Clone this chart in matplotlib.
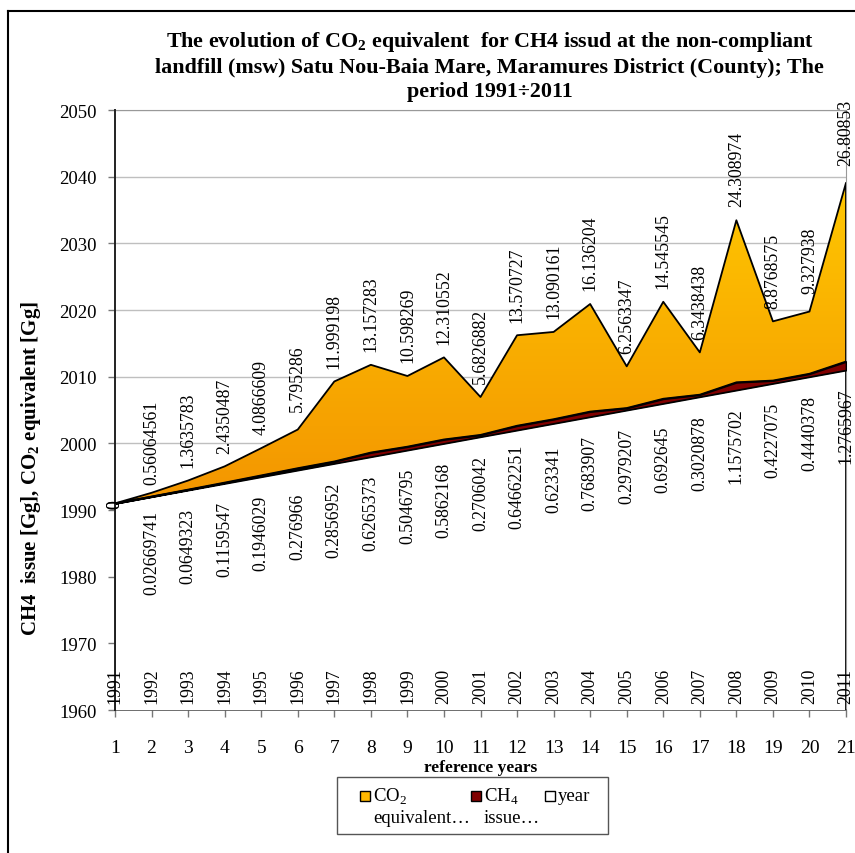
import numpy as np
import matplotlib
matplotlib.use('Agg')
from matplotlib import pyplot as plt
from matplotlib.colors import LinearSegmentedColormap
from matplotlib.patches import Rectangle

plt.rcParams['font.family'] = ['Liberation Serif', 'DejaVu Serif']
plt.rcParams['mathtext.fontset'] = 'custom'
plt.rcParams['mathtext.rm'] = 'Liberation Serif'
plt.rcParams['mathtext.bf'] = 'Liberation Serif:bold'

# data
ref = np.arange(1, 22)
year = np.arange(1991, 2012)
ch4 = np.array([0, 0.02669741, 0.0649323, 0.1159547, 0.1946029, 0.276966,
                0.2856952, 0.6265373, 0.5046795, 0.5862168, 0.2706042,
                0.64662251, 0.623341, 0.7683907, 0.2979207, 0.692645,
                0.3020878, 1.1575702, 0.4227075, 0.4440378, 1.2765967])
co2 = np.array([0, 0.56064561, 1.3635783, 2.4350487, 4.0866609, 5.795286,
                11.999198, 13.157283, 10.598269, 12.310552, 5.6826882,
                13.570727, 13.090161, 16.136204, 6.2563347, 14.545545,
                6.3438438, 24.308974, 8.8768575, 9.327938, 26.80853])
ch4_txt = ['0', '0.02669741', '0.0649323', '0.1159547', '0.1946029', '0.276966',
           '0.2856952', '0.6265373', '0.5046795', '0.5862168', '0.2706042',
           '0.64662251', '0.623341', '0.7683907', '0.2979207', '0.692645',
           '0.3020878', '1.1575702', '0.4227075', '0.4440378', '1.2765967']
co2_txt = ['0', '0.56064561', '1.3635783', '2.4350487', '4.0866609', '5.795286',
           '11.999198', '13.157283', '10.598269', '12.310552', '5.6826882',
           '13.570727', '13.090161', '16.136204', '6.2563347', '14.545545',
           '6.3438438', '24.308974', '8.8768575', '9.327938', '26.80853']

W, H = 855, 854
def px(x, y):
    return x / W, 1 - y / H

fig = plt.figure(figsize=(8.55, 8.54), dpi=100)
ax = fig.add_axes([0.1345, 0.1674, 0.8550, 0.7026])

polys = ax.stackplot(ref, year, ch4, co2,
                     colors=['white', '#800000', 'none'],
                     edgecolor='black', linewidth=1.3, zorder=3)

# orange gradient inside the CO2 area
cmap = LinearSegmentedColormap.from_list('og', ['#F39400', '#FFC800'])
grad = np.linspace(0, 1, 256).reshape(-1, 1)
im = ax.imshow(grad, cmap=cmap, aspect='auto', origin='lower',
               extent=[1, 21, 1990, 2040], zorder=2.5)
im.set_clip_path(polys[2].get_paths()[0], ax.transData)

ax.set_xlim(1, 21)
ax.set_ylim(1960, 2050)
ax.set_xticks(ref)
ax.set_yticks(np.arange(1960, 2051, 10))
ax.grid(axis='y', color='#BFBFBF', lw=1.0, zorder=0)
ax.set_axisbelow(True)

for s in ['top', 'right']:
    ax.spines[s].set_color('#999999')
ax.spines['left'].set_color('#222222')
ax.spines['left'].set_linewidth(1.4)
ax.spines['bottom'].set_color('#555555')
ax.spines['bottom'].set_linewidth(1.2)
ax.spines['left'].set_zorder(4)

ax.tick_params(axis='y', direction='out', length=5, width=1, color='#777777',
               labelsize=13.5, pad=8)
ax.tick_params(axis='x', direction='out', length=5, width=1, color='#777777',
               labelsize=14, pad=16)

# data labels
lbl = dict(rotation=90, fontsize=12.8, ha='center', va='center', zorder=5)
top = year + ch4 + co2
for i in range(len(ref)):
    if i == 0:
        ax.text(ref[i], year[i], '0', **lbl)
        ax.text(ref[i], year[i], '0', **lbl)
    else:
        ax.annotate(co2_txt[i], (ref[i], top[i]), xytext=(0, 37),
                    textcoords='offset points', **lbl)
        ax.annotate(ch4_txt[i], (ref[i], year[i]), xytext=(0, -40),
                    textcoords='offset points', **lbl)
    ax.annotate(str(year[i]), (ref[i], 1960), xytext=(0, 18),
                textcoords='offset points', **lbl)

ax.set_xlabel('reference years', fontsize=12.5, fontweight='bold', labelpad=2)
ax.set_ylabel('CH4  issue [Gg], CO$_\\mathbf{2}$ equivalent [Gg]',
              fontsize=15, fontweight='bold')
ax.yaxis.set_label_coords(-0.0985, 0.405)

fig.text(0.573, px(0, 30)[1],
         'The evolution of CO$_\\mathbf{2}$ equivalent  for CH4 issud at the non-compliant\n'
         'landfill (msw) Satu Nou-Baia Mare, Maramures District (County); The\n'
         'period 1991\u00f72011',
         ha='center', va='top', fontsize=15.8, fontweight='bold', linespacing=1.27)

# legend, laid out like the original (text wraps under the swatch labels)
x0, y0 = px(337, 835)
x1, y1 = px(608, 778)
fig.add_artist(Rectangle((x0, y0), x1 - x0, y1 - y0, transform=fig.transFigure,
                         facecolor='white', edgecolor='#555555', lw=1.0))
entries = [('#FFB800', 360, 'CO$_2$', 'equivalent\u2026'),
           ('#800000', 471, 'CH$_4$', 'issue\u2026'),
           ('white', 545, 'year', '')]
sw, sh = 10 / W, 10 / H
for color, xs, line1, line2 in entries:
    bx, by = px(xs, 802)
    fig.add_artist(Rectangle((bx, by), sw, sh, transform=fig.transFigure,
                             facecolor=color, edgecolor='black', lw=1.0))
    tx, ty = px(xs + 13, 797)
    fig.text(tx, ty, line1, ha='left', va='center', fontsize=13.5)
    if line2:
        tx2, ty2 = px(xs + 13, 819)
        fig.text(tx2, ty2, line2, ha='left', va='center', fontsize=13.5)

# outer frame of the figure (left and top edges)
fig.add_artist(plt.Line2D([0.0095, 0.0095], [0, 0.986], color='black', lw=1.5))
fig.add_artist(plt.Line2D([0.0095, 1.0], [0.986, 0.986], color='black', lw=1.5))

fig.savefig('out.png', dpi=100)
